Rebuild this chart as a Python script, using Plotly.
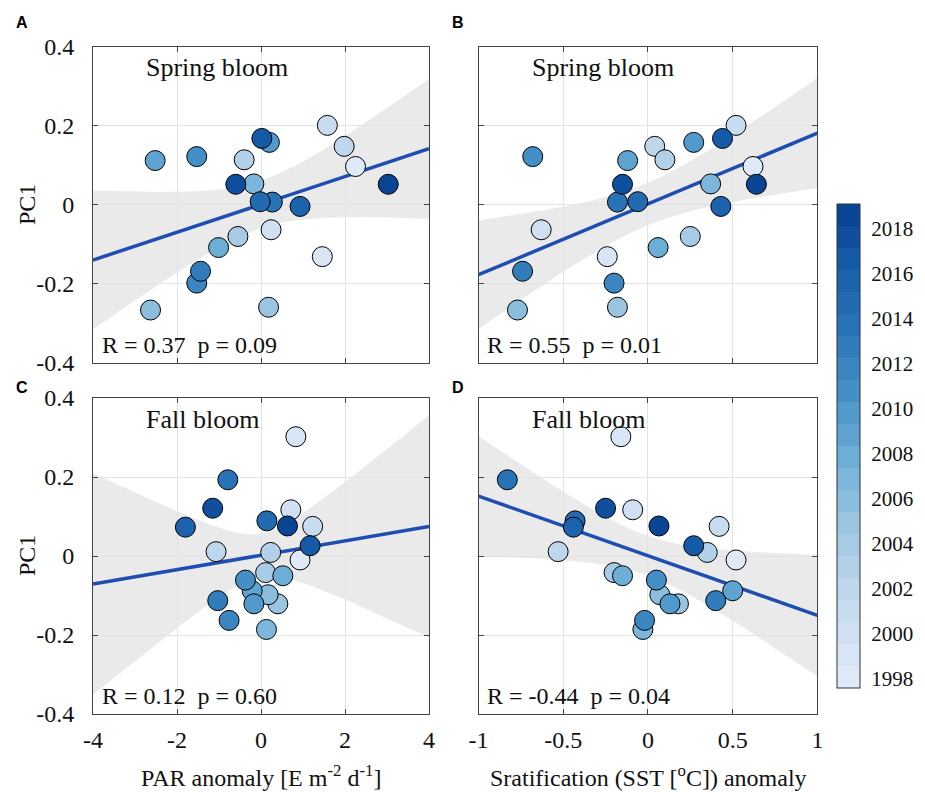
import numpy as np
import plotly.graph_objects as go

# ---------------- data ----------------
years = list(range(1998, 2020))

# Spring bloom
spring_pc1 = [0.097, -0.131, -0.063, 0.201, 0.148, 0.114, -0.080, -0.259, -0.266, 0.053, -0.108,
              0.112, 0.158, 0.122, -0.198, -0.168, 0.007, 0.008, -0.004, 0.168, 0.052, 0.052]
spring_par = [2.25, 1.46, 0.24, 1.58, 1.98, -0.40, -0.55, 0.18, -2.63, -0.17, -1.01,
              -2.52, 0.20, -1.53, -1.53, -1.44, 0.27, -0.02, 0.93, 0.02, -0.60, 3.03]
spring_sst = [0.62, -0.24, -0.63, 0.52, 0.04, 0.10, 0.25, -0.18, -0.77, 0.37, 0.06,
              -0.12, 0.27, -0.68, -0.20, -0.74, -0.18, -0.06, 0.43, 0.44, -0.15, 0.64]

# Fall bloom
fall_pc1 = [-0.010, 0.302, 0.117, 0.075, 0.011, 0.009, -0.042, -0.121, -0.098, -0.186, -0.050,
            -0.088, -0.121, -0.061, -0.163, -0.113, 0.193, 0.089, 0.073, 0.026, 0.121, 0.076]
fall_par = [0.93, 0.83, 0.71, 1.23, -1.07, 0.23, 0.11, 0.40, 0.17, 0.13, 0.52,
            -0.21, -0.17, -0.37, -0.76, -1.03, -0.79, 0.14, -1.80, 1.17, -1.15, 0.63]
fall_sst = [0.52, -0.16, -0.09, 0.42, -0.53, 0.35, -0.20, 0.18, 0.07, -0.03, -0.15,
            0.50, 0.13, 0.05, -0.02, 0.40, -0.83, -0.43, -0.44, 0.27, -0.25, 0.065]

stat_labels = ["R = 0.37\u00a0\u00a0p = 0.09", "R = 0.55\u00a0\u00a0p = 0.01",
               "R = 0.12\u00a0\u00a0p = 0.60", "R = -0.44\u00a0\u00a0p = 0.04"]
bloom_labels = ["Spring bloom", "Spring bloom", "Fall bloom", "Fall bloom"]
panel_letters = ["A", "B", "C", "D"]
par_ticks = [-4, -2, 0, 2, 4]
par_ticktext = ["-4", "-2", "0", "2", "4"]
sst_ticks = [-1, -0.5, 0, 0.5, 1]
sst_ticktext = ["-1", "-0.5", "0", "0.5", "1"]
pc1_ticks = [-0.4, -0.2, 0, 0.2, 0.4]
pc1_ticktext = ["-0.4", "-0.2", "0", "0.2", "0.4"]
year_ticks = list(range(1998, 2019, 2))

# ---------------- styling ----------------
W, H = 925, 792
SERIF = "Liberation Serif"
TXT = "#111"
LINE_BLUE = "rgb(30,78,178)"
BAND = "rgba(225,225,225,0.7)"

# discrete blue colour map (22 levels)
anchors = [(0.0, (224, 233, 248)), (0.18, (193, 216, 237)), (0.33, (155, 198, 225)),
           (0.48, (108, 173, 214)), (0.62, (68, 144, 198)), (0.76, (40, 115, 182)),
           (0.9, (22, 91, 167)), (1.0, (9, 69, 148))]


def interp_color(t):
    for (t0, c0), (t1, c1) in zip(anchors[:-1], anchors[1:]):
        if t <= t1:
            f = (t - t0) / (t1 - t0)
            return tuple(int(round(a + (b - a) * f)) for a, b in zip(c0, c1))
    return anchors[-1][1]


n_levels = 22
colorscale = []
for i in range(n_levels):
    c = interp_color(i / (n_levels - 1))
    col = "rgb(%d,%d,%d)" % c
    colorscale.append([i / n_levels, col])
    colorscale.append([(i + 1) / n_levels, col])


def px_x(p):
    return p / W


def px_y(p):
    return 1 - p / H


# panel boxes in pixels (left, right, top, bottom)
boxes = [(93, 429, 46.7, 363), (478.5, 817.4, 46.7, 363),
         (93, 429, 398, 714), (478.5, 817.4, 398, 714)]
ranges = [(-4, 4), (-1, 1), (-4, 4), (-1, 1)]
xticks = [par_ticks, sst_ticks, par_ticks, sst_ticks]
xticktext = [par_ticktext, sst_ticktext, par_ticktext, sst_ticktext]
xdata = [spring_par, spring_sst, fall_par, fall_sst]
ydata = [spring_pc1, spring_pc1, fall_pc1, fall_pc1]

fig = go.Figure()

for k in range(4):
    xa = "x" if k == 0 else "x%d" % (k + 1)
    ya = "y" if k == 0 else "y%d" % (k + 1)
    x = np.array(xdata[k])
    y = np.array(ydata[k])
    n = len(x)
    # least-squares fit with 95% confidence band on the mean
    b1, b0 = np.polyfit(x, y, 1)
    resid = y - (b0 + b1 * x)
    s = np.sqrt(np.sum(resid ** 2) / (n - 2))
    sxx = np.sum((x - x.mean()) ** 2)
    t_crit = 2.086  # t(0.975, df=20)
    xg = np.linspace(ranges[k][0], ranges[k][1], 200)
    yg = b0 + b1 * xg
    half = t_crit * s * np.sqrt(1.0 / n + (xg - x.mean()) ** 2 / sxx)
    fig.add_trace(go.Scatter(
        x=np.concatenate([xg, xg[::-1]]), y=np.concatenate([yg + half, (yg - half)[::-1]]),
        fill="toself", fillcolor=BAND, line=dict(width=0), mode="lines",
        hoverinfo="skip", showlegend=False, xaxis=xa, yaxis=ya))
    fig.add_trace(go.Scatter(
        x=xg, y=yg, mode="lines", line=dict(color=LINE_BLUE, width=3.5),
        showlegend=False, xaxis=xa, yaxis=ya))
    fig.add_trace(go.Scatter(
        x=x, y=y, mode="markers",
        marker=dict(size=20, color=years, coloraxis="coloraxis",
                    line=dict(color="black", width=1)),
        showlegend=False, xaxis=xa, yaxis=ya))

layout = dict(
    width=W, height=H, margin=dict(l=0, r=0, t=0, b=0, autoexpand=False),
    paper_bgcolor="white", plot_bgcolor="white",
    font=dict(family=SERIF, size=24, color=TXT),
    coloraxis=dict(
        colorscale=colorscale, cmin=1997.58, cmax=2019.08,
        colorbar=dict(
            x=px_x(837.3), xanchor="left", xpad=0, ypad=0,
            y=px_y((204 + 687.7) / 2), yanchor="middle",
            len=(687.7 - 204) / H, lenmode="fraction",
            thickness=23, thicknessmode="pixels",
            outlinecolor="#333", outlinewidth=1,
            tickvals=year_ticks, ticks="outside", ticklen=7,
            tickcolor="rgba(0,0,0,0)",
            tickfont=dict(family=SERIF, size=21, color=TXT),
        ),
    ),
)

annotations = []
for k in range(4):
    l, r, t, b = boxes[k]
    sfx = "" if k == 0 else str(k + 1)
    ax_common = dict(showline=True, linecolor="#444", linewidth=1, mirror="ticks",
                     ticks="inside", ticklen=5, tickcolor="#444",
                     showgrid=True, gridcolor="#e3e3e3", gridwidth=1, zeroline=False,
                     tickfont=dict(family=SERIF, size=24, color=TXT))
    layout["xaxis" + sfx] = dict(
        ax_common, domain=[px_x(l), px_x(r)], range=list(ranges[k]),
        tickvals=xticks[k], ticktext=xticktext[k], showticklabels=(k >= 2),
        anchor="y" + sfx, ticklabelstandoff=4)
    layout["yaxis" + sfx] = dict(
        ax_common, domain=[px_y(b), px_y(t)], range=[-0.4, 0.4],
        tickvals=pc1_ticks, ticktext=pc1_ticktext, showticklabels=(k % 2 == 0),
        anchor="x" + sfx, ticklabelstandoff=13)
    xd = "x%s domain" % sfx if sfx else "x domain"
    yd = "y%s domain" % sfx if sfx else "y domain"
    annotations.append(dict(text=bloom_labels[k], xref=xd, yref=yd, x=0.153, y=0.933,
                            xanchor="left", yanchor="middle", showarrow=False,
                            font=dict(family=SERIF, size=26, color=TXT)))
    annotations.append(dict(text=stat_labels[k], xref=xd, yref=yd, x=0.02, y=0.057,
                            xanchor="left", yanchor="middle", showarrow=False,
                            font=dict(family=SERIF, size=24, color=TXT)))
    lx = 22 if k % 2 == 0 else 458
    ly = 22 if k < 2 else 388
    annotations.append(dict(text="<b>%s</b>" % panel_letters[k], xref="paper", yref="paper",
                            x=px_x(lx), y=px_y(ly), xanchor="center", yanchor="middle",
                            showarrow=False,
                            font=dict(family="Liberation Sans", size=16, color="black")))

# axis titles
annotations.append(dict(text="PC1", textangle=-90, xref="paper", yref="paper",
                        x=px_x(27), y=px_y(205), xanchor="center", yanchor="middle",
                        showarrow=False, font=dict(family=SERIF, size=24, color=TXT)))
annotations.append(dict(text="PC1", textangle=-90, xref="paper", yref="paper",
                        x=px_x(27), y=px_y(556), xanchor="center", yanchor="middle",
                        showarrow=False, font=dict(family=SERIF, size=24, color=TXT)))
annotations.append(dict(text="PAR anomaly [E m<sup>-2</sup> d<sup>-1</sup>]",
                        xref="paper", yref="paper", x=px_x(261), y=px_y(776),
                        xanchor="center", yanchor="middle", showarrow=False,
                        font=dict(family=SERIF, size=24, color=TXT)))
annotations.append(dict(text="Sratification (SST [<sup>o</sup>C]) anomaly",
                        xref="paper", yref="paper", x=px_x(648), y=px_y(776),
                        xanchor="center", yanchor="middle", showarrow=False,
                        font=dict(family=SERIF, size=24, color=TXT)))

layout["annotations"] = annotations
fig.update_layout(**layout)
fig.write_html("out.html")
